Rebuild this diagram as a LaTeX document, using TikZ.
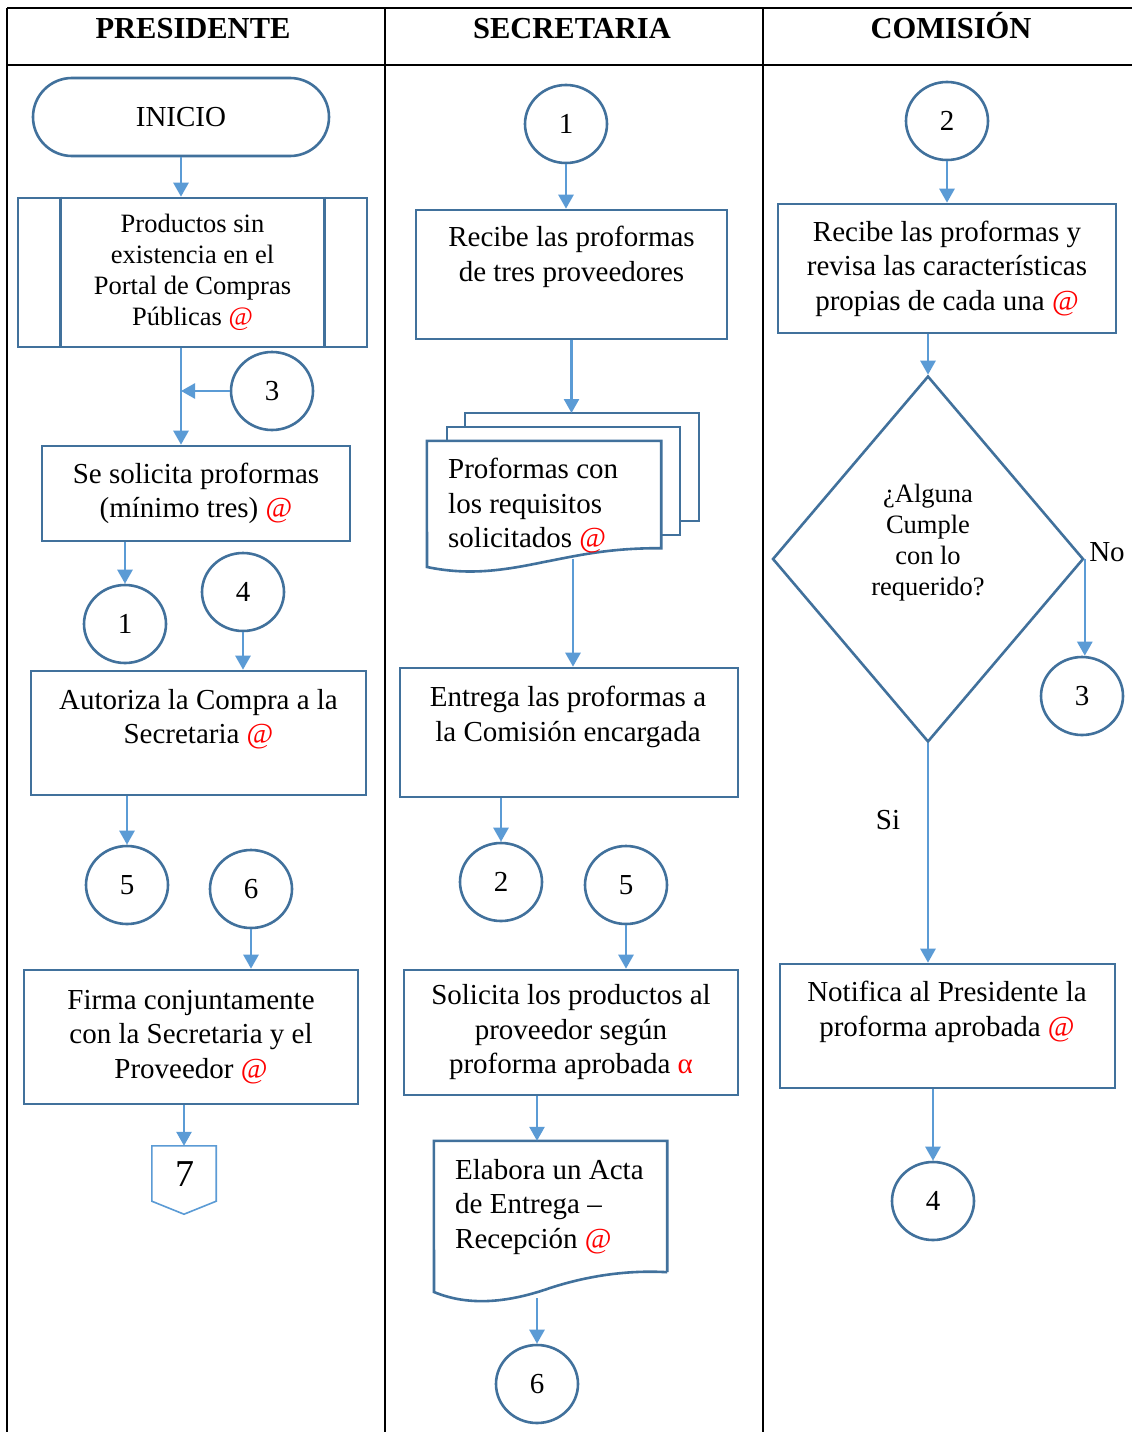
\documentclass[tikz,border=0pt]{standalone}
\usepackage{fontspec}
\setmainfont{Liberation Serif}
\usetikzlibrary{arrows.meta,shapes.geometric}
\definecolor{bord}{RGB}{65,113,156}
\definecolor{flow}{RGB}{91,155,213}
\definecolor{mark}{RGB}{255,0,0}
\newcommand{\bodyfont}{\fontsize{29}{34.5}\selectfont}
\newcommand{\smallfont}{\fontsize{26.5}{31}\selectfont}
\newcommand{\arroba}{\textcolor{mark}{@}}
\tikzset{
  grid/.style={draw=black, line width=2pt},
  box/.style={draw=bord, line width=2.6pt, fill=white, inner sep=0pt},
  boxline/.style={draw=bord, line width=2.6pt},
  txt/.style={inner sep=0pt, align=center, font=\bodyfont},
  ltxt/.style={inner sep=0pt, align=left, anchor=west, font=\bodyfont},
  head/.style={inner sep=0pt, anchor=base, font=\fontsize{30.5}{34}\selectfont\bfseries},
  circ/.style={ellipse, draw=bord, line width=2.6pt, fill=white, minimum width=82pt, minimum height=78pt, inner sep=0pt, font=\bodyfont},
  lab/.style={inner sep=0pt, font=\bodyfont},
  arr/.style={draw=flow, line width=2.6pt, -{Triangle[length=14pt,width=15pt]}},
}
\begin{document}
\begin{tikzpicture}[x=1pt,y=-1pt]
\fill[white] (0,0) rectangle (1132,1432);
\useasboundingbox (0,0) rectangle (1132,1432);

% swimlane table
\draw[grid] (7,8) -- (1132,8);
\draw[grid] (7,65) -- (1132,65);
\draw[grid] (7,8) -- (7,1432);
\draw[grid] (385,8) -- (385,1432);
\draw[grid] (763,8) -- (763,1432);
\node[head] (hp) at (193,38) {PRESIDENTE};
\node[head] (hs) at (572,38) {SECRETARIA};
\node[head] (hc) at (951,38) {COMISIÓN};

% ---------- PRESIDENTE ----------
\node[box, rounded corners=39pt, minimum width=296pt, minimum height=78pt, font=\bodyfont] (inicio) at (181,117) {INICIO};
\node[box, minimum width=349pt, minimum height=149pt, font=\smallfont, align=center] (pp) at (192.5,272.5)
  {Productos sin\\existencia en el\\Portal de Compras\\Públicas \arroba};
\draw[boxline] ([xshift=44pt]pp.north west) -- ([xshift=44pt]pp.south west);
\draw[boxline] ([xshift=-44pt]pp.north east) -- ([xshift=-44pt]pp.south east);
\node[circ] (n3a) at (272,391) {3};
\node[box, minimum width=308pt, minimum height=95pt, font=\bodyfont, align=center] (ss) at (196,493.5)
  {Se solicita proformas\\(mínimo tres) \arroba};
\draw[arr] (inicio.south) -- (inicio.south |- pp.north);
\draw[arr] (pp.south -| inicio.south) -- (ss.north -| inicio.south);
\draw[arr] (n3a.west) -- (n3a.west -| inicio.south);

\node[circ] (n1a) at (125,624) {1};
\node[circ] (n4a) at (243,592) {4};
\draw[arr] (ss.south -| n1a) -- (n1a.north);
\node[box, minimum width=335pt, minimum height=124pt] (aut) at (198.5,733) {};
\node[txt] (autt) at (198.5,719) {Autoriza la Compra a la\\Secretaria \arroba};
\draw[arr] (n4a.south) -- (n4a.south |- aut.north);

\node[circ] (n5a) at (127,885) {5};
\node[circ] (n6a) at (251,889) {6};
\draw[arr] (aut.south -| n5a) -- (n5a.north);
\node[box, minimum width=334pt, minimum height=134pt, font=\bodyfont, align=center] (fir) at (191,1037)
  {Firma conjuntamente\\con la Secretaria y el\\Proveedor \arroba};
\draw[arr] (n6a.south) -- (n6a.south |- fir.north);

% off-page connector
\node[inner sep=0pt, minimum width=64pt, minimum height=68pt] (off) at (184,1180) {};
\draw[draw=flow, line width=1.6pt] (off.north west) -- (off.north east) -- ([yshift=13pt]off.south east)
  -- (off.south) -- ([yshift=13pt]off.south west) -- cycle;
\node[inner sep=0pt, font=\fontsize{38}{40}\selectfont] (offt) at (185,1174) {7};
\draw[arr] (fir.south -| off) -- (off.north);

% ---------- SECRETARIA ----------
\node[circ] (n1b) at (566,124) {1};
\node[box, minimum width=311pt, minimum height=129pt] (rec) at (571.5,274.5) {};
\node[txt] (rect) at (571.5,257) {Recibe las proformas\\de tres proveedores};
\draw[arr] (n1b.south) -- (n1b.south |- rec.north);

% stacked documents
\coordinate (mdb) at (582,413);
\draw[boxline, fill=white] (465,441) -- (465,413) -- (699,413) -- (699,521) -- (680,521);
\draw[boxline, fill=white] (447,441) -- (447,427) -- (680,427) -- (680,535) -- (661,535);
\node[inner sep=0pt, minimum width=234pt, minimum height=107pt] (md) at (544,494.5) {};
\draw[boxline, fill=white] (md.north west) -- (md.north east) -- (md.south east)
  .. controls (610,548) and (580,555) .. (544,562)
  .. controls (505,570) and (470,576) .. (427,567) -- cycle;
\node[ltxt] (mdt) at (448,506) {Proformas con\\los requisitos\\solicitados \arroba};
\draw[arr] (rec.south) -- (rec.south |- mdb);
\coordinate (mdout) at (573,559);

\node[box, minimum width=338pt, minimum height=129pt] (ent) at (569,732.5) {};
\node[txt] (entt) at (568,717) {Entrega las proformas a\\la Comisión encargada};
\draw[arr] (mdout) -- (mdout |- ent.north);

\node[circ] (n2b) at (501,882) {2};
\node[circ] (n5b) at (626,885) {5};
\draw[arr] (ent.south -| n2b) -- (n2b.north);
\node[box, minimum width=334pt, minimum height=125pt, font=\bodyfont, align=center] (sol) at (571,1032.5)
  {Solicita los productos al\\proveedor según\\proforma aprobada \textcolor{mark}{α}};
\draw[arr] (n5b.south) -- (n5b.south |- sol.north);

% document shape
\node[inner sep=0pt, minimum width=233pt, minimum height=131pt] (el) at (550.5,1206.5) {};
\draw[boxline, fill=white] (el.south east) -- (el.north east) -- (el.north west) -- (434,1292)
  .. controls (470,1307) and (510,1302) .. (550,1288)
  .. controls (590,1275) and (630,1270) .. (el.south east);
\node[ltxt] (elt) at (455,1207) {Elabora un Acta\\de Entrega –\\Recepción \arroba};
\node[circ] (n6b) at (537,1384) {6};
\draw[arr] (sol.south -| n6b) -- (el.north -| n6b);
\coordinate (elout) at (537,1298);
\draw[arr] (elout) -- (n6b.north);

% ---------- COMISION ----------
\node[circ] (n2c) at (947,121) {2};
\node[box, minimum width=338pt, minimum height=129pt, font=\bodyfont, align=center] (rc) at (947,268.5)
  {Recibe las proformas y\\revisa las características\\propias de cada una \arroba};
\draw[arr] (n2c.south) -- (n2c.south |- rc.north);

\node[diamond, draw=bord, line width=2.6pt, fill=white, inner sep=0pt, minimum width=311pt, minimum height=366pt] (dia) at (928,559) {};
\node[txt, font=\smallfont] (diat) at (928,543) {¿Alguna\\Cumple\\con lo\\requerido?};
\draw[arr] (rc.south -| dia.north) -- (dia.north);

\node[circ] (n3c) at (1082,696) {3};
\draw[arr] (dia.east) -- (dia.east |- n3c.north);
\node[lab] (no) at (1107,552) {No};
\node[lab] (si) at (888,820) {Si};

\node[box, minimum width=335pt, minimum height=124pt] (not) at (947.5,1026) {};
\node[txt] (nott) at (947,1012) {Notifica al Presidente la\\proforma aprobada \arroba};
\draw[arr] (dia.south) -- (dia.south |- not.north);

\node[circ] (n4c) at (933,1201) {4};
\draw[arr] (not.south -| n4c) -- (n4c.north);
\end{tikzpicture}
\end{document}
